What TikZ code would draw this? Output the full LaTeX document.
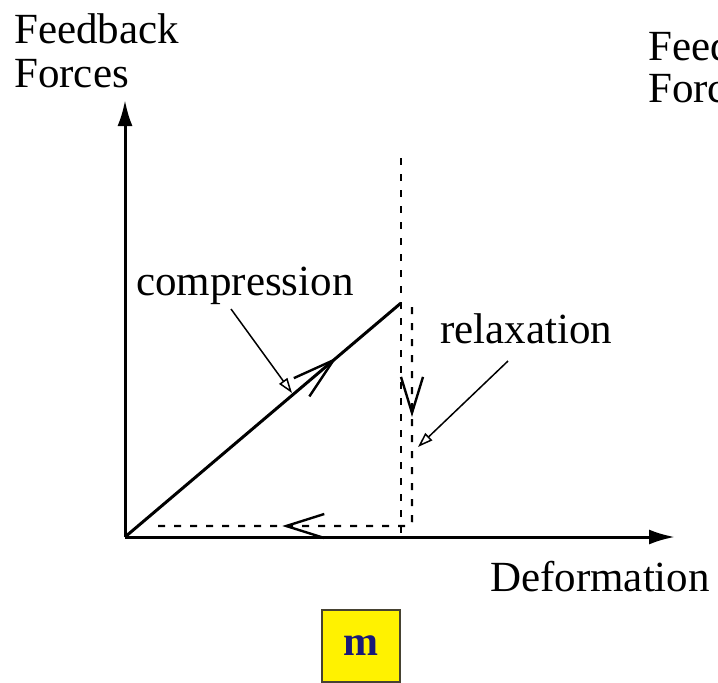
\documentclass[tikz,border=0pt]{standalone}
\usepackage{fontspec}
\setmainfont{Liberation Serif}
\usetikzlibrary{arrows.meta,decorations.markings}
\definecolor{boxedge}{RGB}{70,66,50}
\definecolor{mblue}{RGB}{25,25,120}
\begin{document}
\begin{tikzpicture}[x=1pt,y=-1pt,
  lbl/.style={font=\fontsize{43}{44}\selectfont, inner sep=0pt, anchor=base west},
  axis/.style={line width=3pt, -{Latex[length=26pt,width=15pt]}},
  dsh/.style={line width=2.4pt, dash pattern=on 7pt off 9pt},
  pointer/.style={line width=1.5pt, -{Triangle[open,length=15pt,width=10pt,line width=1.5pt]}},
  barb/.style={solid, line width=2.4pt},
]
\useasboundingbox (0,0) rectangle (718,683);
\clip (0,0) rectangle (718,683);

% key points of the plot
\coordinate (O) at (125,537);
\coordinate (ytop) at (125,100);
\coordinate (xend) at (675,537);
\coordinate (peak) at (401,303);
\coordinate (limtop) at (401,158);
\coordinate (limbot) at (401,537);
\coordinate (rtop) at (412,307);
\coordinate (rcorner) at (412,526);
\coordinate (rend) at (157,526);

% axes
\draw[axis] (O) -- (ytop);
\draw[axis] (O) -- (xend);

% axis labels (the right-hand pair runs off the edge)
\node[lbl] (yl1) at (14,43) {Feedback};
\node[lbl] (yl2) at (14,87) {Forces};
\node[lbl] (xl) at (490,591) {Deformation};
\node[lbl] (yr1) at (648,60) {Feedback};
\node[lbl] (yr2) at (648,102) {Forces};

% deformation limit
\draw[dsh] (limtop) -- (limbot);

% compression branch
\draw[line width=3pt, postaction={decorate},
  decoration={markings, mark=at position 0.768 with {\arrow[barb]{Straight Barb[length=42pt,width=24pt]}}}]
  (O) -- (peak);

% relaxation branch
\draw[dsh, rounded corners=4pt, postaction={decorate},
  decoration={markings,
    mark=at position 110pt with {\arrow[barb]{Straight Barb[length=36pt,width=22pt]}},
    mark=at position 347pt with {\arrow[barb]{Straight Barb[length=38pt,width=24pt]}}}]
  (rtop) -- (rcorner) -- (rend);

% labels with pointers
\node[lbl] (comp) at (136,295) {compression};
\node[lbl] (relax) at (440,343) {relaxation};
\coordinate (cfrom) at (231,309);
\coordinate (cto) at (292,393);
\coordinate (rfrom) at (508,361);
\coordinate (rto) at (418,447);
\draw[pointer] (cfrom) -- (cto);
\draw[pointer] (rfrom) -- (rto);

% material tag
\node[draw=boxedge, line width=2pt, fill=yellow, minimum width=78pt, minimum height=72pt,
  inner sep=0pt, text=mblue, font=\fontsize{42}{42}\selectfont\bfseries] (tag) at (361,646) {m};
\end{tikzpicture}
\end{document}
